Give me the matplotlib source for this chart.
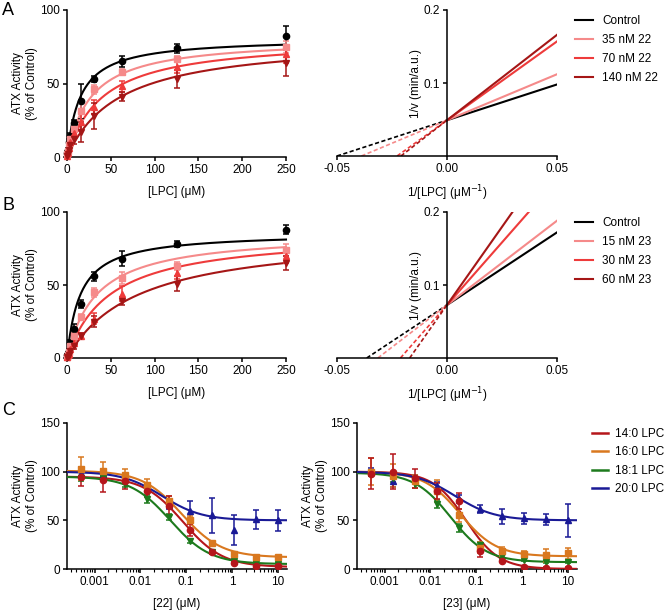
import numpy as np
import matplotlib
matplotlib.use("Agg")
import matplotlib.pyplot as plt
from matplotlib.ticker import FixedLocator, NullFormatter, LogLocator

plt.rcParams['font.family'] = ['Liberation Sans', 'DejaVu Sans']
plt.rcParams['font.size'] = 8.5
plt.rcParams['axes.linewidth'] = 1.1

# ---- data -------------------------------------------------------------
lpc = [0.49, 0.98, 1.95, 3.9, 7.8, 15.6, 31.25, 62.5, 125, 250]

kin_colors = ['black', '#F58A8A', '#EE3B3B', '#A51616']
kin_markers = ['o', 's', '^', 'v']

# panel A (compound 22)
a_labels = ['Control', '35 nM 22', '70 nM 22', '140 nM 22']
a_mean = [[3, 5, 10, 14, 23, 38, 53, 65, 74, 82],
          [2, 4, 8, 12, 19, 31, 46, 58, 67, 75],
          [1, 3, 6, 10, 16, 24, 34, 48, 61, 70],
          [1, 2, 5, 8, 12, 17, 28, 41, 53, 64]]
a_err = [[1, 1, 2, 2, 2, 12, 2, 4, 3, 7],
         [1, 1, 1, 2, 2, 6, 3, 2, 2, 4],
         [1, 1, 2, 2, 3, 6, 5, 4, 4, 6],
         [1, 1, 2, 2, 3, 7, 9, 3, 6, 9]]
a_vmax = [81, 81, 81, 81]
a_km = [15, 27, 40, 60]
a_lb_int = 0.049
a_lb_slope = [0.98, 1.26, 2.16, 2.34]

# panel B (compound 23)
b_labels = ['Control', '15 nM 23', '30 nM 23', '60 nM 23']
b_mean = [[2, 3, 5, 10, 20, 37, 56, 68, 78, 88],
          [1, 2, 4, 8, 15, 28, 45, 55, 63, 74],
          [1, 2, 3, 6, 10, 15, 27, 44, 58, 70],
          [1, 1, 2, 5, 8, 15, 25, 39, 51, 65]]
b_err = [[1, 1, 1, 2, 3, 3, 3, 5, 2, 3],
         [1, 1, 1, 1, 2, 2, 3, 4, 3, 4],
         [1, 1, 1, 1, 2, 2, 4, 5, 4, 5],
         [1, 1, 1, 1, 2, 2, 4, 3, 5, 5]]
b_vmax = [86, 86, 86, 86]
b_km = [15, 33, 48, 80]
b_lb_int = 0.0726
b_lb_slope = [1.99, 2.31, 3.43, 4.28]

# panel C (dose response)
dose = [0.000508, 0.00152, 0.00457, 0.0137, 0.0412, 0.123, 0.370, 1.11, 3.33, 10]
c_labels = ['14:0 LPC', '16:0 LPC', '18:1 LPC', '20:0 LPC']
c_colors = ['#B5161B', '#D9781F', '#1D7A1D', '#1A1A96']
c_markers = ['o', 's', 'v', '^']

c22_mean = [[95, 91, 90, 80, 65, 40, 17, 6, 3, 3],
            [103, 101, 97, 86, 70, 50, 27, 15, 12, 12],
            [93, 93, 87, 72, 53, 29, 17, 8, 6, 5],
            [99, 98, 93, 83, 66, 60, 55, 40, 51, 50]]
c22_err = [[10, 12, 8, 6, 10, 6, 2, 1, 1, 1],
           [12, 9, 6, 6, 5, 4, 2, 1, 1, 1],
           [3, 3, 3, 4, 3, 2, 2, 1, 1, 1],
           [4, 4, 4, 4, 4, 10, 18, 15, 10, 11]]
c22_fit = [(95, 2, 0.085, 1.0), (101, 12, 0.08, 1.0),
           (95, 5, 0.045, 1.0), (100, 50, 0.03, 1.0)]

c23_mean = [[98, 100, 93, 80, 70, 18, 8, 2, 1, 1],
            [100, 96, 90, 80, 55, 22, 18, 15, 14, 16],
            [99, 93, 87, 67, 42, 25, 13, 9, 7, 7],
            [100, 90, 93, 85, 72, 62, 54, 52, 51, 50]]
c23_err = [[16, 18, 10, 8, 8, 6, 1, 1, 1, 1],
           [14, 12, 7, 11, 7, 6, 5, 4, 7, 6],
           [3, 4, 4, 4, 4, 3, 2, 1, 1, 1],
           [4, 6, 4, 4, 4, 4, 8, 6, 6, 17]]
c23_fit = [(100, 0, 0.06, 1.2), (100, 13, 0.045, 1.1),
           (99, 7, 0.028, 1.1), (100, 50, 0.035, 1.0)]

# ---- figure -----------------------------------------------------------
W, H = 666, 610
fig = plt.figure(figsize=(W / 100, H / 100), dpi=100)


def make_ax(l, t, r, b):
    return fig.add_axes([l / W, 1 - b / H, (r - l) / W, (b - t) / H])


def style(ax):
    for s in ['top', 'right']:
        ax.spines[s].set_visible(False)
    ax.tick_params(direction='out', length=3, width=1.1, pad=2)


def mm_panel(ax, means, errs, vmax, km):
    s = np.linspace(0, 250, 300)
    for i in range(4):
        ax.plot(s, vmax[i] * s / (km[i] + s), color=kin_colors[i], lw=1.5,
                clip_on=False, zorder=3)
        ax.errorbar(lpc, means[i], yerr=errs[i], fmt=kin_markers[i],
                    color=kin_colors[i], ms=4.5, elinewidth=1.1, capsize=2.5,
                    capthick=1.1, clip_on=False, zorder=4)
    ax.set_xlim(0, 250)
    ax.set_ylim(0, 100)
    ax.set_xticks([0, 50, 100, 150, 200, 250])
    ax.set_yticks([0, 50, 100])
    ax.set_xlabel('[LPC] (\u03bcM)', labelpad=7)
    ax.set_ylabel('ATX Activity\n(% of Control)', labelpad=1.5)
    style(ax)


def lb_panel(ax, intercept, slopes, labels):
    for i in range(4):
        xi = -intercept / slopes[i]
        ax.plot([xi, 0], [0, intercept], color=kin_colors[i], lw=1.2,
                ls=(0, (2.5, 1.5)))
        ax.plot([0, 0.05], [intercept, intercept + slopes[i] * 0.05],
                color=kin_colors[i], lw=1.5, label=labels[i])
    ax.set_xlim(-0.05, 0.05)
    ax.set_ylim(0, 0.2)
    ax.spines['left'].set_position(('data', 0))
    ax.set_xticks([-0.05, 0, 0.05])
    ax.set_xticklabels(['-0.05', '0.00', '0.05'])
    ax.set_yticks([0.1, 0.2])
    ax.set_yticklabels(['0.1', '0.2'])
    ax.set_xlabel('1/[LPC] (\u03bcM$^{-1}$)', labelpad=6)
    ax.set_ylabel('1/v (min/a.u.)', labelpad=1)
    style(ax)
    ax.legend(loc='upper left', bbox_to_anchor=(1.06, 1.0), frameon=False,
              handlelength=1.5, labelspacing=0.6, fontsize=8.5,
              borderaxespad=0, handletextpad=0.8)


def dr_panel(ax, means, errs, fits, xlabel):
    xs = np.logspace(-3.6, 1.2, 300)
    for i in range(4):
        top, bot, ic50, h = fits[i]
        ax.plot(xs, bot + (top - bot) / (1 + (xs / ic50) ** h),
                color=c_colors[i], lw=1.5, zorder=3)
    for i in [3, 2, 1, 0]:
        ax.errorbar(dose, means[i], yerr=errs[i], fmt=c_markers[i],
                    color=c_colors[i], ms=4.5, elinewidth=1.1, capsize=2.5,
                    capthick=1.1, zorder=4)
    ax.set_xscale('log')
    ax.set_xlim(10 ** -3.6, 10 ** 1.2)
    ax.set_ylim(0, 150)
    ax.set_yticks([0, 50, 100, 150])
    ax.xaxis.set_major_locator(FixedLocator([0.001, 0.01, 0.1, 1, 10]))
    ax.set_xticklabels(['0.001', '0.01', '0.1', '1', '10'])
    ax.xaxis.set_minor_locator(LogLocator(base=10, subs=np.arange(2, 10)))
    ax.xaxis.set_minor_formatter(NullFormatter())
    ax.set_xlabel(xlabel, labelpad=7)
    ax.set_ylabel('ATX Activity\n(% of Control)', labelpad=1.5)
    style(ax)
    ax.tick_params(which='minor', length=2, width=0.8)


axA1 = make_ax(67, 10, 286, 157)
mm_panel(axA1, a_mean, a_err, a_vmax, a_km)
axA2 = make_ax(337, 10, 557, 156)
lb_panel(axA2, a_lb_int, a_lb_slope, a_labels)

axB1 = make_ax(67, 212, 286, 358)
mm_panel(axB1, b_mean, b_err, b_vmax, b_km)
axB2 = make_ax(337, 212, 557, 358)
lb_panel(axB2, b_lb_int, b_lb_slope, b_labels)

axC1 = make_ax(67, 423, 287, 569)
dr_panel(axC1, c22_mean, c22_err, c22_fit, '[22] (\u03bcM)')
axC2 = make_ax(357, 423, 577, 569)
dr_panel(axC2, c23_mean, c23_err, c23_fit, '[23] (\u03bcM)')
axC2.legend([plt.Line2D([], [], color=c, lw=1.8) for c in c_colors], c_labels,
            loc='upper left', bbox_to_anchor=(1.045, 1.0), frameon=False,
            handlelength=1.4, labelspacing=0.55, fontsize=8.5,
            borderaxespad=0, handletextpad=0.6)

for lab, y in [('A', 2), ('B', 197), ('C', 402)]:
    fig.text(2 / W, 1 - y / H, lab, fontsize=13, va='top', ha='left')

fig.savefig('out.png', dpi=100)
